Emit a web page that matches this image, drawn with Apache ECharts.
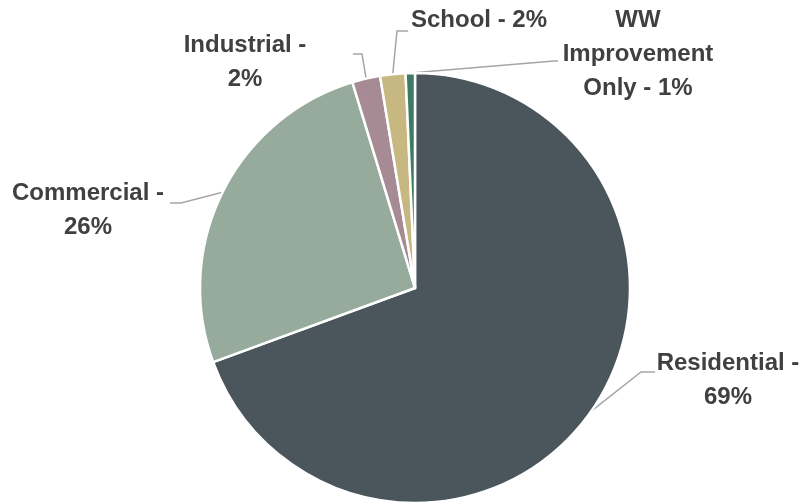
<!DOCTYPE html>
<html>
<head>
<meta charset="utf-8">
<script src="https://cdn.jsdelivr.net/npm/echarts@6/dist/echarts.min.js"></script>
<style>html,body{margin:0;padding:0;background:#fff}#c{width:801px;height:503px}</style>
</head>
<body>
<div id="c"></div>
<script>
const categories = ['Residential', 'Commercial', 'Industrial', 'School', 'WW Improvement Only'];
const values = [69.4, 25.9, 2.1, 1.9, 0.7];
const labelNames = ['Residential -\n', 'Commercial -\n', 'Industrial -\n', 'School - ', 'WW\nImprovement\nOnly - '];
const colors = ['#4b565c', '#97ab9d', '#a68b95', '#c7b882', '#3e7b63'];

// label block centers and leader bends (layout, not data)
const labelPos = [
  {x: 728, y: 380, bend: [641, 372], end: [655, 372]},
  {x: 88, y: 210, bend: [181, 203], end: [170, 203]},
  {x: 245, y: 62, bend: [362, 54], end: [353, 54]},
  {x: 479, y: 20, bend: [397, 31], end: [408, 31]},
  {x: 638, y: 54, bend: [554, 61], end: [558, 61]}
];

const chart = echarts.init(document.getElementById('c'), null, {renderer: 'canvas'});
chart.setOption({
  backgroundColor: '#ffffff',
  animation: false,
  series: [{
    type: 'pie',
    center: [415, 288],
    radius: 215,
    startAngle: 90,
    clockwise: true,
    avoidLabelOverlap: false,
    data: categories.map((c, i) => ({name: c, value: values[i], itemStyle: {color: colors[i]}})),
    itemStyle: {borderColor: '#ffffff', borderWidth: 2.5},
    label: {
      show: true,
      position: 'outside',
      formatter: p => labelNames[p.dataIndex] + Math.round(p.percent) + '%',
      fontFamily: "'Liberation Sans', Arial, sans-serif",
      fontWeight: 'bold',
      fontSize: 24,
      lineHeight: 34,
      color: '#404040',
      align: 'center'
    },
    labelLine: {
      show: true,
      lineStyle: {color: '#a6a6a6', width: 1.5}
    },
    labelLayout: function (params) {
      const lp = labelPos[params.dataIndex];
      const p0 = params.labelLinePoints ? params.labelLinePoints[0] : lp.bend;
      return {
        x: lp.x,
        y: lp.y,
        align: 'center',
        verticalAlign: 'middle',
        labelLinePoints: [p0, lp.bend, lp.end]
      };
    }
  }]
});
</script>
</body>
</html>
